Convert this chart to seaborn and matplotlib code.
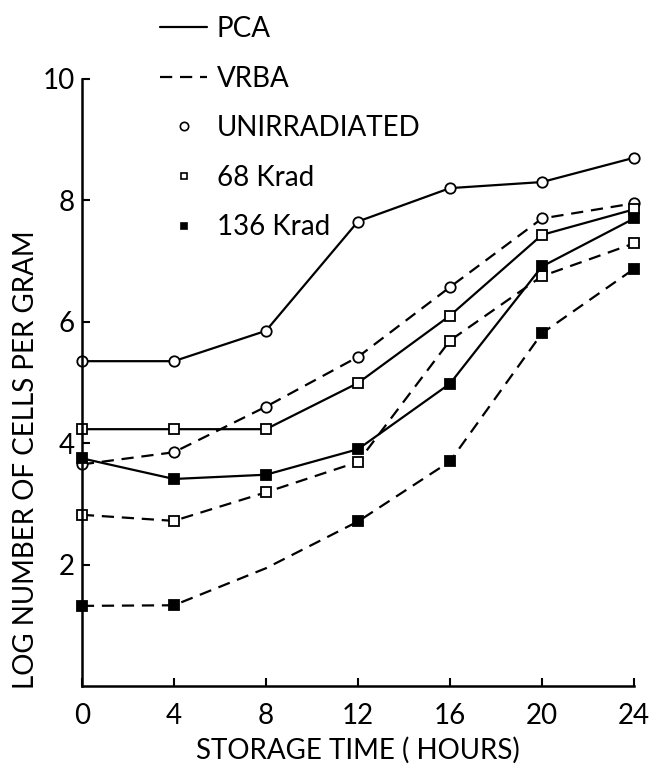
import matplotlib
matplotlib.use("Agg")
import matplotlib.pyplot as plt
from matplotlib.lines import Line2D
import seaborn as sns
import pandas as pd

# Storage time (hours) and log counts per gram for each medium / dose
hours = [0, 4, 8, 12, 16, 20, 24]
pca_unirradiated = [5.35, 5.35, 5.85, 7.65, 8.2, 8.3, 8.7]
vrba_unirradiated = [3.65, 3.85, 4.6, 5.42, 6.57, 7.7, 7.95]
pca_68krad = [4.23, 4.23, 4.23, 4.99, 6.1, 7.43, 7.85]
vrba_68krad = [2.82, 2.72, 3.19, 3.69, 5.69, 6.75, 7.29]
pca_136krad = [3.75, 3.41, 3.48, 3.9, 4.98, 6.91, 7.7]
vrba_136krad = [1.32, 1.33, 1.94, 2.71, 3.7, 5.81, 6.87]

x_ticks = [0, 4, 8, 12, 16, 20, 24]
y_ticks = [2, 4, 6, 8, 10]
legend_labels = ["PCA", "VRBA", "UNIRRADIATED", "68 Krad", "136 Krad"]

sns.set_theme(style="ticks")
plt.rcParams["font.family"] = ["Lato", "DejaVu Sans"]
plt.rcParams["text.color"] = "black"
plt.rcParams["axes.labelcolor"] = "black"

fig = plt.figure(figsize=(6.55, 7.66), dpi=100)
ax = fig.add_axes([0.125, 0.1044, 0.843, 0.7927])

solid = "-"
dashed = (0, (5.5, 3.5))
series = [
    (pca_unirradiated, solid, "o", "white", None),
    (vrba_unirradiated, dashed, "o", "white", None),
    (pca_68krad, solid, "s", "white", None),
    (vrba_68krad, dashed, "s", "white", None),
    (pca_136krad, solid, "s", "black", None),
    (vrba_136krad, dashed, "s", "black", [0, 1, 3, 4, 5, 6]),
]

for vals, ls, mk, face, every in series:
    df = pd.DataFrame({"hours": hours, "log": vals})
    sns.lineplot(
        data=df, x="hours", y="log", ax=ax, color="black",
        linestyle=ls, linewidth=1.6, marker=mk,
        markersize=7.5 if mk == "o" else 6.5,
        markerfacecolor=face, markeredgecolor="black", markeredgewidth=1.3,
        markevery=every, clip_on=False, errorbar=None,
    )

ax.set_xlim(0, 24)
ax.set_ylim(0, 10)
ax.set_xticks(x_ticks)
ax.set_xticklabels([str(t) for t in x_ticks])
ax.set_yticks(y_ticks)
ax.set_yticklabels([str(t) for t in y_ticks])
sns.despine(ax=ax)
for side in ("left", "bottom"):
    ax.spines[side].set_linewidth(1.8)
    ax.spines[side].set_color("black")
ax.tick_params(axis="both", direction="in", length=6, width=1.5,
               labelsize=20, colors="black", labelcolor="black")
ax.tick_params(axis="x", pad=12)
ax.tick_params(axis="y", pad=5)

ax.set_xlabel("STORAGE TIME ( HOURS)", fontsize=20, labelpad=6, color="black")
ax.set_ylabel("LOG NUMBER OF CELLS PER GRAM", fontsize=20, color="black")
ax.yaxis.set_label_coords(-0.078, 0.373)

handles = [
    Line2D([], [], color="black", linestyle=solid, linewidth=1.6),
    Line2D([], [], color="black", linestyle=dashed, linewidth=1.6),
    Line2D([], [], color="black", linestyle="none", marker="o",
           markersize=6, markerfacecolor="white", markeredgewidth=1.2),
    Line2D([], [], color="black", linestyle="none", marker="s",
           markersize=5, markerfacecolor="white", markeredgewidth=1.2),
    Line2D([], [], color="black", linestyle="none", marker="s",
           markersize=5, markerfacecolor="black", markeredgewidth=1.2),
]
leg = fig.legend(handles, legend_labels, loc="upper left",
                 bbox_to_anchor=(160 / 655, 1 - 16 / 766), frameon=False,
                 fontsize=20, handlelength=1.7, handletextpad=0.35,
                 labelspacing=0.85, borderpad=0, borderaxespad=0)
for t in leg.get_texts():
    t.set_color("black")

ax.set_facecolor("white")
fig.savefig("out.png", dpi=100, facecolor="white")
